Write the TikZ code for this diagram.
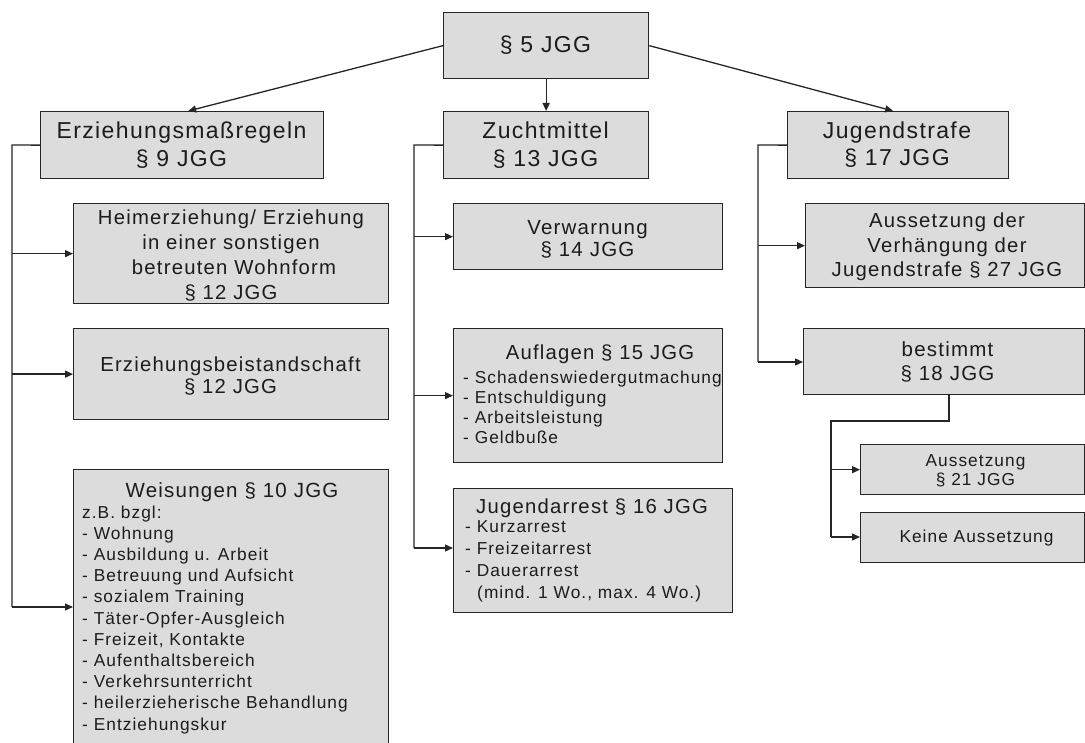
\documentclass[tikz,border=0pt]{standalone}
\usepackage{fontspec}
\setmainfont{Liberation Sans}[LetterSpace=6]
\usetikzlibrary{arrows.meta,calc}

\definecolor{boxfill}{HTML}{DCDCDC}
\definecolor{linec}{HTML}{262626}
\definecolor{textc}{HTML}{1C1C1C}

% a grey box given by its corners (x1,y1) and (x2,y2)
\newcommand{\gbox}[5]{%
  \node[box, minimum width={(#4-#2)*1pt}, minimum height={(#5-#3)*1pt}] (#1) at (#2,#3) {};}
\newcommand{\fsz}[2]{\fontsize{#1}{#2}\selectfont}

\begin{document}
\begin{tikzpicture}[x=1pt, y=-1pt,
  box/.style={draw=linec, fill=boxfill, line width=1.3pt, inner sep=0pt, anchor=north west},
  % texts are placed by the baseline of their last line
  txt/.style={inner sep=0pt, anchor=base, align=center, text=textc},
  lst/.style={inner sep=0pt, anchor=base west, align=left, text=textc},
  line/.style={draw=linec, line width=1.3pt},
  arr/.style={line, -{Triangle[length=8pt,width=7pt]}}]

\useasboundingbox[fill=white] (0,0) rectangle (1085,743);

% boxes
\gbox{top}{443}{12}{648}{78}
\gbox{erz}{40}{111}{323}{178}
\gbox{zucht}{443}{111}{648}{178}
\gbox{jug}{787}{111}{1008}{178}
\gbox{heim}{73}{203}{388}{303}
\gbox{beist}{73}{328}{388}{419}
\gbox{weis}{73}{469}{388}{770}
\gbox{verw}{453}{203}{722}{269}
\gbox{aufl}{453}{328}{722}{462}
\gbox{arrest}{453}{488}{732}{612}
\gbox{ausv}{805}{203}{1084}{287}
\gbox{best}{803}{328}{1084}{394}
\gbox{aus21}{860}{444}{1084}{494}
\gbox{keine}{860}{512}{1084}{562}

% texts
\node[txt, font=\fsz{23}{28}] (top-t) at (545.5,53) {§ 5 JGG};
\node[txt, font=\fsz{23}{28}] (erz-t) at (181.5,167) {Erziehungsmaßregeln\\§ 9 JGG};
\node[txt, font=\fsz{23}{28}] (zucht-t) at (545.5,167) {Zuchtmittel\\§ 13 JGG};
\node[txt, font=\fsz{23}{27}] (jug-t) at (897,166) {Jugendstrafe\\§ 17 JGG};

\node[txt, font=\fsz{20.3}{25}] (heim-t) at (231,300)
  {Heimerziehung/ Erziehung\\in einer sonstigen\\\hspace*{6pt}betreuten Wohnform\\§ 12 JGG};
\node[txt, font=\fsz{20.3}{22}] (beist-t) at (230.5,394) {Erziehungsbeistandschaft\\§ 12 JGG};
\node[txt, font=\fsz{20.5}{22}] (weis-t) at (232,497) {Weisungen § 10 JGG};
\node[lst, font=\fsz{17.3}{21.2}] (weis-l) at (82,730)
  {z.B. bzgl:\\- Wohnung\\- Ausbildung u. Arbeit\\- Betreuung und Aufsicht\\- sozialem Training\\
   - Täter-Opfer-Ausgleich\\- Freizeit, Kontakte\\- Aufenthaltsbereich\\- Verkehrsunterricht\\
   - heilerzieherische Behandlung\\- Entziehungskur};

\node[txt, font=\fsz{20.5}{22}] (verw-t) at (587.5,257) {Verwarnung\\§ 14 JGG};
\node[txt, font=\fsz{20.3}{22}] (aufl-t) at (600,360) {Auflagen § 15 JGG};
\node[lst, font=\fsz{17.3}{19.7}] (aufl-l) at (463,443)
  {- Schadenswiedergutmachung\\- Entschuldigung\\- Arbeitsleistung\\- Geldbuße};
\node[txt, font=\fsz{20.3}{22}] (arrest-t) at (592,513) {Jugendarrest § 16 JGG};
\node[lst, font=\fsz{17.3}{21.7}] (arrest-l) at (465,598)
  {- Kurzarrest\\- Freizeitarrest\\- Dauerarrest\\\hspace*{12pt}(mind. 1 Wo., max. 4 Wo.)};

\node[txt, font=\fsz{20.3}{24.5}] (ausv-t) at (947,277)
  {Aussetzung der\\Verhängung der\\Jugendstrafe § 27 JGG};
\node[txt, font=\fsz{20.5}{24}] (best-t) at (947.5,381) {bestimmt\\§ 18 JGG};
\node[txt, font=\fsz{17.3}{19.5}] (aus21-t) at (975.5,485.5) {Aussetzung\\§ 21 JGG};
\node[txt, font=\fsz{17.3}{19.5}] (keine-t) at (976.5,542) {Keine Aussetzung};

% top level connectors
\draw[arr] (top.west) -- ([xshift=6pt]erz.north);
\draw[arr] (top.south) -- (zucht.north);
\draw[arr] (top.east) -- ([xshift=-5pt]jug.north);

% left branch
\coordinate (lt) at (12,145);
\coordinate (lb) at (12,607);
\draw[line] (erz.west) -- (lt) -- (lb);
\draw[arr] (lt |- heim.west) -- (heim.west);
\draw[arr] (lt |- beist.west) -- (beist.west);
\draw[arr] (lb) -- (lb -| weis.west);

% middle branch
\coordinate (mt) at (414,145);
\coordinate (mb) at (414,548);
\draw[line] (zucht.west) -- (mt) -- (mb);
\draw[arr] (mt |- verw.west) -- (verw.west);
\draw[arr] (mt |- aufl.west) -- (aufl.west);
\draw[arr] (mb) -- (mb -| arrest.west);

% right branch
\coordinate (rt) at (758,145);
\coordinate (rb) at (758,362);
\draw[line] (jug.west) -- (rt) -- (rb);
\draw[arr] (rt |- ausv.west) -- (ausv.west);
\draw[arr] (rb) -- (rb -| best.west);

% sub-branch below "bestimmt"
\coordinate (sa) at (best.south -| 949,0);
\coordinate (sk) at (831,421);
\coordinate (sb) at (831,537);
\draw[line] (sa) |- (sk) -- (sb);
\draw[arr] (sk |- aus21.west) -- (aus21.west);
\draw[arr] (sb) -- (sb -| keine.west);
\end{tikzpicture}
\end{document}
